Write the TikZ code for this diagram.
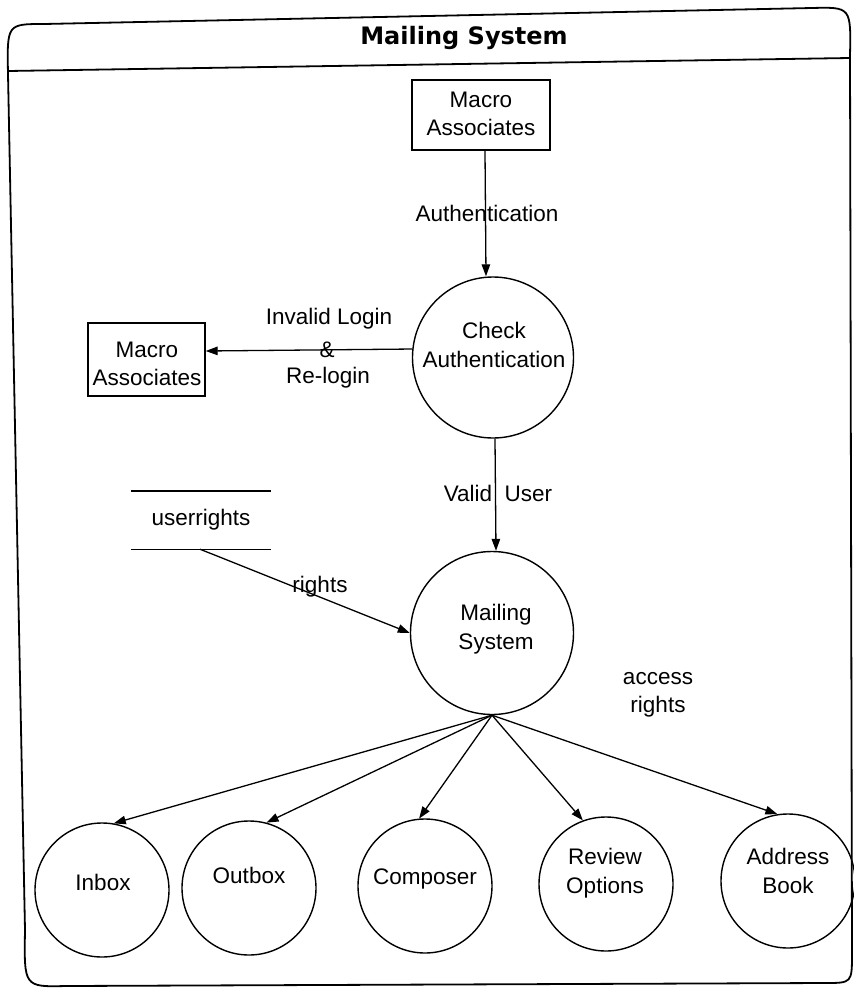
\documentclass[tikz,border=0pt]{standalone}
\usepackage{fontspec}
\setmainfont{Liberation Sans}
\newfontfamily\titlefont{DejaVu Sans}
\usetikzlibrary{arrows.meta}

\newcommand{\lblfont}{\fontsize{22.5}{28.5}\selectfont}

\tikzset{
  frame/.style={line width=1.8pt, line join=round, line cap=round},
  proc/.style={circle, draw, line width=1.4pt, inner sep=0pt},
  ent/.style={rectangle, draw, line width=1.4pt, inner sep=0pt},
  txt/.style={align=center, inner sep=0pt, font=\lblfont},
  flow/.style={line width=1.3pt, -{Triangle[length=12pt,width=8.5pt]}},
  storeline/.style={line width=1.4pt},
}

\begin{document}
\begin{tikzpicture}[x=1pt, y=-1pt]
  \useasboundingbox (0,0) rectangle (854,988);

  % outer system boundary with its title bar
  \draw[frame] (25,930) -- (8,74) .. controls (7,24) .. (44,24)
    -- (812,8) .. controls (851,7) .. (850,56)
    -- (852,953) .. controls (852,983) .. (825,983)
    -- (66,986) .. controls (24,987) .. (25,930);
  \draw[frame] (8,71) -- (850,58);
  \node[inner sep=0pt, font=\titlefont\bfseries\fontsize{24}{28}\selectfont] (title) at (464,38) {Mailing System};

  % external entities
  \node[ent, minimum width=138pt, minimum height=70pt] (topbox) at (481,115) {};
  \node[txt] (topbox-t) at (481,114) {Macro\\Associates};
  \node[ent, minimum width=117pt, minimum height=73pt] (leftbox) at (146.5,359.5) {};
  \node[txt] (leftbox-t) at (147,364) {Macro\\Associates};

  % processes
  \node[proc, minimum size=161pt] (check) at (493,357.5) {};
  \node[txt] (check-t) at (494,345) {Check\\Authentication};
  \node[proc, minimum size=163pt] (ms) at (492,633) {};
  \node[txt] (ms-t) at (496,629) {Mailing\\System};

  % data store
  \node[txt, minimum width=140pt, minimum height=58pt] (store) at (201,520) {userrights};
  \draw[storeline] (store.north west) -- (store.north east);
  \draw[storeline] (store.south west) -- (store.south east);

  % sub-processes
  \node[proc, minimum size=134pt] (inbox) at (102,890) {};
  \node[txt] (inbox-t) at (103,882) {Inbox};
  \node[proc, minimum size=134pt] (outbox) at (249,888) {};
  \node[txt] (outbox-t) at (249,875) {Outbox};
  \node[proc, minimum size=134pt] (composer) at (425,886) {};
  \node[txt] (composer-t) at (425,879) {Composer};
  \node[proc, minimum size=134pt] (review) at (606,884) {};
  \node[txt] (review-t) at (605,873) {Review\\Options};
  \node[proc, minimum size=134pt] (address) at (788,881) {};
  \node[txt] (address-t) at (788,871) {Address\\Book};

  % data flows
  \draw[flow] ([xshift=4pt]topbox.south) -- ([xshift=-7pt]check.north);
  \node[txt] (l-auth) at (487,213) {Authentication};

  \draw[flow] (check.174) -- ([yshift=8.5pt]leftbox.east);
  \node[txt] (l-inv) at (329,319) {Invalid Login};
  \node[txt] (l-amp) at (327,350) {\&};
  \node[txt] (l-re) at (328,378) {Re-login};

  \draw[flow] ([xshift=2pt]check.south) -- ([xshift=4pt]ms.north);
  \node[txt] (l-valid) at (498,493) {Valid\ \ User};

  \draw[flow] ([xshift=-1pt]store.south) -- (ms.west);
  \node[txt] (l-rights) at (320,587) {rights};

  \node[txt] (l-access) at (658,695) {access\\rights};

  \draw[flow] (ms.south) -- (inbox.80);
  \draw[flow] (ms.south) -- (outbox.75);
  \draw[flow] (ms.south) -- (composer.95);
  \draw[flow] (ms.south) -- (review.110);
  \draw[flow] (ms.south) -- (address.99);
\end{tikzpicture}
\end{document}
